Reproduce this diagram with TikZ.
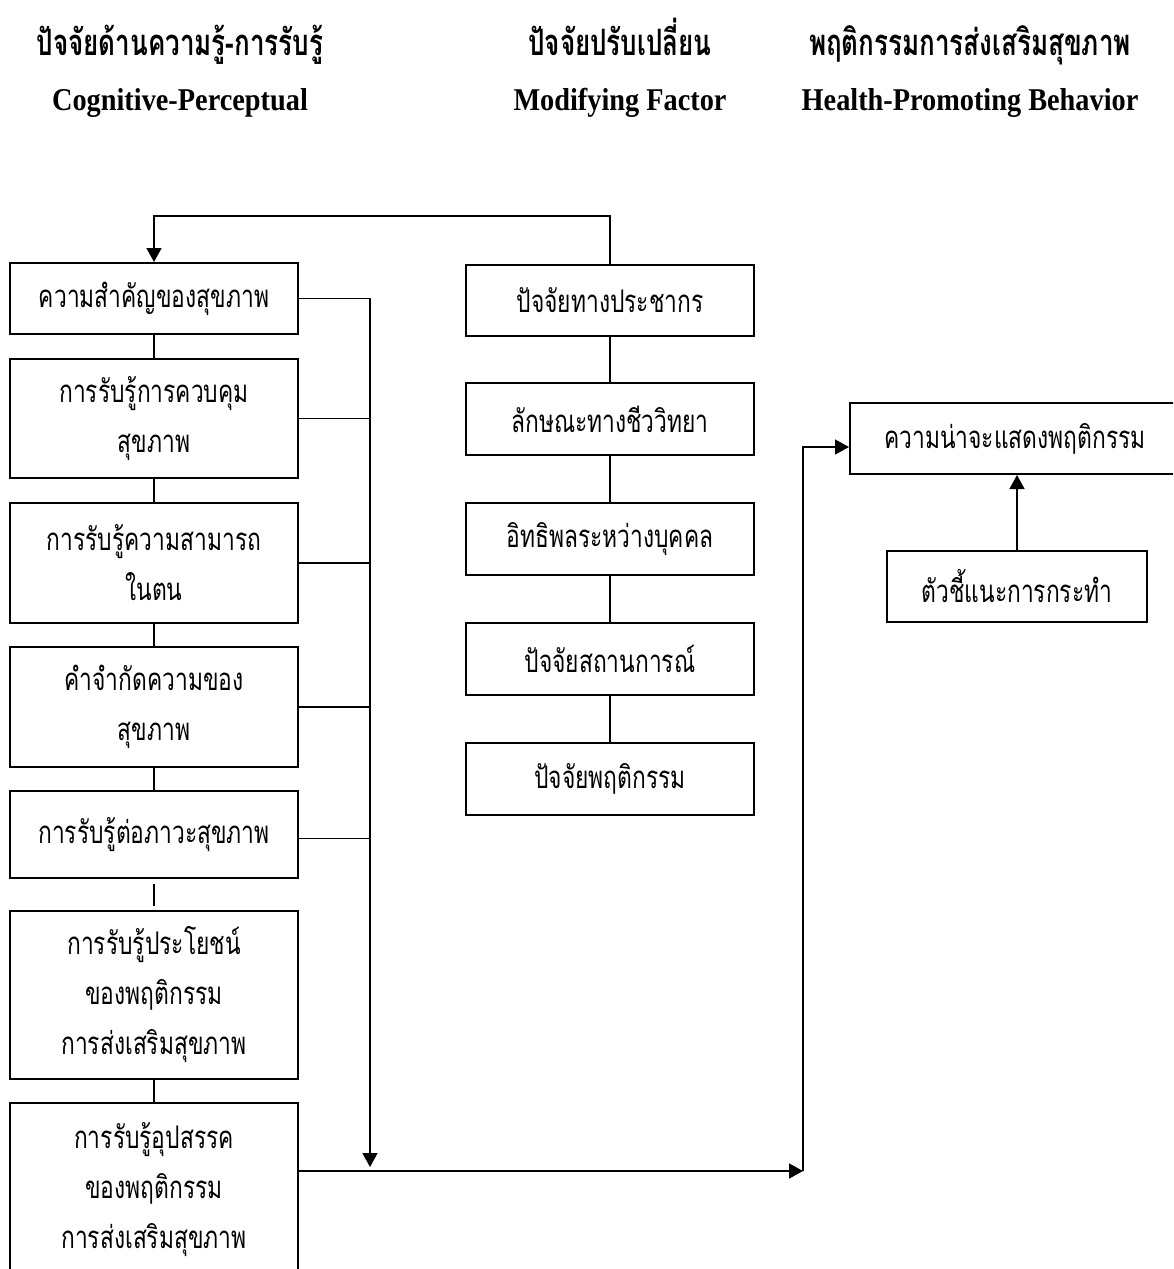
\documentclass[tikz,border=0pt]{standalone}
\usepackage{fontspec}
\setmainfont[Script=Thai]{Loma}
\newfontfamily\en{Liberation Serif}
\usetikzlibrary{arrows.meta}
\newcommand\tline[1]{\scalebox{0.95}[1.3]{#1}}
\newcommand\hdrline[1]{\scalebox{1}[1.4]{#1}}
\newcommand\engline[1]{\scalebox{1}[1.12]{#1}}
\begin{document}
\begin{tikzpicture}[x=1pt,y=-1pt,
  box/.style={draw, line width=2pt, minimum width=288pt, align=center, inner sep=0pt, font=\fontsize{24}{50}\selectfont},
  conn/.style={line width=1.5pt},
  arr/.style={line width=1.5pt, -{Triangle[length=14pt,width=15pt]}},
  hdr/.style={anchor=base, inner sep=0pt, font=\fontsize{26}{30}\selectfont\bfseries},
  ehdr/.style={anchor=base, inner sep=0pt, font=\en\fontsize{28.3}{32}\selectfont\bfseries}]
\useasboundingbox (0,0) rectangle (1173,1269);
\clip (0,0) rectangle (1173,1269);
\fill[white] (0,0) rectangle (1173,1269);

% headers
\node[hdr] (h1) at (180,55) {\hdrline{ปัจจัยด้านความรู้-การรับรู้}};
\node[hdr] (h2) at (620,55) {\hdrline{ปัจจัยปรับเปลี่ยน}};
\node[hdr] (h3) at (970,55) {\hdrline{พฤติกรรมการส่งเสริมสุขภาพ}};
\node[ehdr] (e1) at (180,110) {\engline{Cognitive-Perceptual}};
\node[ehdr] (e2) at (620,110) {\engline{Modifying Factor}};
\node[ehdr] (e3) at (970,110) {\engline{Health-Promoting Behavior}};

% left column
\node[box, minimum height=71pt] (c1) at (154,298.5) {\tline{ความสำคัญของสุขภาพ}};
\node[box, minimum height=119pt] (c2) at (154,418.5) {\tline{การรับรู้การควบคุม}\\\tline{สุขภาพ}};
\node[box, minimum height=120pt] (c3) at (154,563) {\tline{การรับรู้ความสามารถ}\\\tline{ในตน}};
\node[box, minimum height=120pt] (c4) at (154,707) {\tline{คำจำกัดความของ}\\\tline{สุขภาพ}};
\node[box, minimum height=87pt] (c5) at (154,834.5) {\tline{การรับรู้ต่อภาวะสุขภาพ}};
\node[box, minimum height=168pt] (c6) at (154,995) {\tline{การรับรู้ประโยชน์}\\\tline{ของพฤติกรรม}\\\tline{การส่งเสริมสุขภาพ}};
\node[box, minimum height=174pt] (c7) at (154,1190) {\tline{การรับรู้อุปสรรค}\\\tline{ของพฤติกรรม}\\\tline{การส่งเสริมสุขภาพ}};

% middle column
\node[box, minimum height=71pt] (m1) at (610,300.5) {\tline{ปัจจัยทางประชากร}};
\node[box, minimum height=72pt] (m2) at (610,419) {\tline{ลักษณะทางชีววิทยา}};
\node[box, minimum height=72pt] (m3) at (610,539) {\tline{อิทธิพลระหว่างบุคคล}};
\node[box, minimum height=72pt] (m4) at (610,659) {\tline{ปัจจัยสถานการณ์}};
\node[box, minimum height=72pt] (m5) at (610,779) {\tline{ปัจจัยพฤติกรรม}};

% right column
\node[box, minimum width=330pt, minimum height=71pt] (r1) at (1015,438.5) {\tline{ความน่าจะแสดงพฤติกรรม}};
\node[box, minimum width=260pt, minimum height=71pt] (r2) at (1017,586.5) {\tline{ตัวชี้แนะการกระทำ}};

% vertical links
\foreach \a/\b in {c1/c2,c2/c3,c3/c4,c4/c5,c6/c7,m1/m2,m2/m3,m3/m4,m4/m5}
  \draw[conn] (\a.south) -- (\b.north);
\draw[conn] ([yshift=-5pt]c5.south) -- ([yshift=4pt]c6.north);

% bus
\coordinate (busEnd) at (370,1167);
\draw[arr] (c1.east) -| (busEnd);
\foreach \n in {c2,c3,c4}
  \draw[conn] (\n.east) -- (\n.east -| busEnd);
\coordinate (c5e) at ([yshift=-4pt]c5.east);
\draw[conn] (c5e) -- (c5e -| busEnd);

% bottom link to outcome
\coordinate (c7e) at ([yshift=19pt]c7.east);
\coordinate (corner) at (803,1171);
\draw[arr] (c7e) -- (corner);
\coordinate (r1w) at ([yshift=-8.5pt]r1.west);
\draw[arr] (corner) |- (r1w);

% top feedback
\coordinate (topY) at (0,216);
\draw[arr] (m1.north) |- (topY -| c1.north) -- (c1.north);

% cues to action
\draw[arr] (r2.north) -- (r2.north |- r1.south);
\end{tikzpicture}
\end{document}
